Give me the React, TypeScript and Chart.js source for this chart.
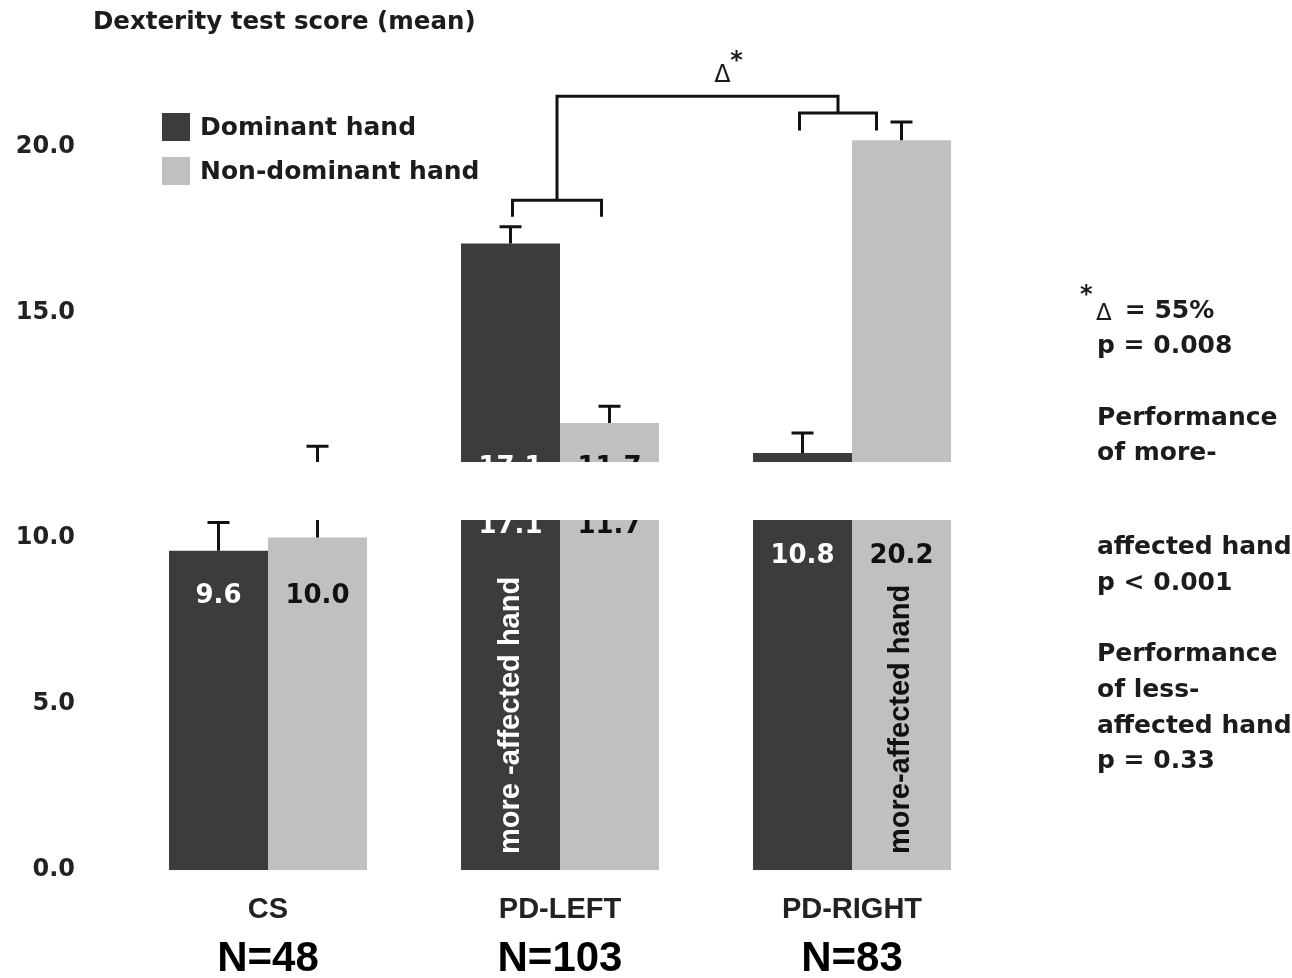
import React, { useEffect, useRef } from 'react';
import { Chart, registerables } from 'chart.js';

Chart.register(...registerables);

// ---------- data ----------
const categories = ['CS', 'PD-LEFT', 'PD-RIGHT'];
const groupSizes = ['N=48', 'N=103', 'N=83'];
const seriesNames = ['Dominant hand', 'Non-dominant hand'];
const dominantMeans = [9.6, 17.1, 10.8];
const nonDominantMeans = [10.0, 11.7, 20.2];
const dominantErrTop = [10.45, 17.6, 11.4];
const nonDominantErrTop = [11.0, 12.2, 20.75];
const yTicks = [0, 5, 10, 15, 20];
const axisTitle = 'Dexterity test score (mean)';
const affectedLabels = [
  { dataset: 0, index: 1, text: 'more -affected hand' },
  { dataset: 1, index: 2, text: 'more-affected hand' },
];
const sideNotes = [
  'Δ = 55%',
  'p = 0.008',
  '',
  'Performance',
  'of more-',
  'affected hand',
  'p < 0.001',
  '',
  'Performance',
  'of less-',
  'affected hand',
  'p = 0.33',
];

// ---------- styles ----------
const DARK = '#3c3c3c';
const LIGHT = '#c0c0c0';
const INK = '#1c1c1c';
const WIDE = '"DejaVu Sans", sans-serif';
const NARROW = '"Liberation Sans", Arial, sans-serif';
const GAP_AT = 462;
const GAP_H = 58;

const decorPlugin = {
  id: 'decor',
  beforeDraw(chart: any) {
    const ctx = chart.ctx;
    ctx.save();
    ctx.fillStyle = '#ffffff';
    ctx.fillRect(0, 0, chart.width, chart.height);
    ctx.restore();
  },
  afterDraw(chart: any) {
    const ctx = chart.ctx;
    const y = chart.scales.y;
    const x = chart.scales.x;
    const bottom = y.getPixelForValue(0);
    const m0 = chart.getDatasetMeta(0).data;
    const m1 = chart.getDatasetMeta(1).data;
    const errs = [dominantErrTop, nonDominantErrTop];
    const means = [dominantMeans, nonDominantMeans];
    const metas = [m0, m1];

    ctx.save();
    // error bars
    ctx.strokeStyle = '#111';
    ctx.lineWidth = 3;
    ctx.lineCap = 'butt';
    for (let d = 0; d < 2; d++) {
      metas[d].forEach((bar: any, i: number) => {
        const top = y.getPixelForValue(means[d][i]);
        const cap = y.getPixelForValue(errs[d][i]);
        ctx.beginPath();
        ctx.moveTo(bar.x, top);
        ctx.lineTo(bar.x, cap);
        ctx.moveTo(bar.x - 11, cap);
        ctx.lineTo(bar.x + 11, cap);
        ctx.stroke();
      });
    }

    // value labels
    ctx.font = `bold 26px ${WIDE}`;
    ctx.textAlign = 'center';
    ctx.textBaseline = 'middle';
    categories.forEach((_, i) => {
      const lowTop = Math.max(
        y.getPixelForValue(dominantMeans[i]),
        y.getPixelForValue(nonDominantMeans[i])
      );
      const ly = lowTop + 45;
      ctx.fillStyle = '#ffffff';
      ctx.fillText(dominantMeans[i].toFixed(1), m0[i].x, ly);
      ctx.fillStyle = '#111';
      ctx.fillText(nonDominantMeans[i].toFixed(1), m1[i].x, ly);
    });

    // rotated labels
    affectedLabels.forEach((a) => {
      const bar = metas[a.dataset][a.index];
      ctx.save();
      ctx.translate(bar.x, bottom - 16);
      ctx.rotate(-Math.PI / 2);
      ctx.font = `bold 29px ${NARROW}`;
      ctx.textAlign = 'left';
      ctx.textBaseline = 'middle';
      ctx.fillStyle = a.dataset === 0 ? '#ffffff' : '#111';
      ctx.fillText(a.text, 0, 0);
      ctx.restore();
    });

    // brackets
    ctx.strokeStyle = '#111';
    ctx.lineWidth = 3;
    ctx.lineCap = 'square';
    const lA = m0[1].x + 2;
    const lB = m1[1].x - 8;
    const rA = m0[2].x - 3;
    const rB = m1[2].x - 25;
    const yL = y.getPixelForValue(18.4);
    const yLleg = y.getPixelForValue(17.95);
    const yTop = y.getPixelForValue(21.53);
    const yR = y.getPixelForValue(21.02);
    const yRleg = y.getPixelForValue(20.54);
    const lMid = (lA + lB) / 2;
    const rMid = (rA + rB) / 2;
    ctx.beginPath();
    ctx.moveTo(lA, yLleg);
    ctx.lineTo(lA, yL);
    ctx.lineTo(lB, yL);
    ctx.lineTo(lB, yLleg);
    ctx.moveTo(lMid, yL);
    ctx.lineTo(lMid, yTop);
    ctx.lineTo(rMid, yTop);
    ctx.lineTo(rMid, yR);
    ctx.moveTo(rA, yRleg);
    ctx.lineTo(rA, yR);
    ctx.lineTo(rB, yR);
    ctx.lineTo(rB, yRleg);
    ctx.stroke();

    // delta label
    const dx = (lMid + rMid) / 2 + 25;
    ctx.fillStyle = INK;
    ctx.font = `24px ${WIDE}`;
    ctx.textAlign = 'center';
    ctx.textBaseline = 'middle';
    ctx.fillText('Δ', dx, yTop - 20);
    ctx.font = `bold 24px ${WIDE}`;
    ctx.fillText('*', dx + 14, yTop - 34);

    // title
    ctx.textAlign = 'left';
    ctx.fillStyle = INK;
    ctx.font = `bold 24.5px ${WIDE}`;
    ctx.fillText(axisTitle, 93, 23);

    // legend
    const colors = [DARK, LIGHT];
    seriesNames.forEach((name, k) => {
      const cy = 127 + k * 44;
      ctx.fillStyle = colors[k];
      ctx.fillRect(162, cy - 14, 28, 28);
      ctx.fillStyle = INK;
      ctx.font = `bold 25px ${WIDE}`;
      ctx.fillText(name, 200, cy + 1);
    });

    // side notes
    const sx = 1097;
    sideNotes.forEach((line, k) => {
      if (!line) return;
      const cy = 311 + k * 35.7;
      ctx.fillStyle = INK;
      if (line.startsWith('Δ')) {
        ctx.font = `bold 24px ${WIDE}`;
        ctx.fillText('*', sx - 17, cy - 15);
        ctx.font = `23px ${WIDE}`;
        ctx.fillText('Δ', sx - 1, cy + 3);
        const w = ctx.measureText('Δ').width;
        ctx.font = `bold 25px ${WIDE}`;
        ctx.fillText(line.slice(1).trimStart(), sx - 1 + w + 13, cy);
      } else {
        ctx.font = `bold 25px ${WIDE}`;
        ctx.fillText(line, sx, cy);
      }
    });

    // group sizes
    ctx.textAlign = 'center';
    ctx.fillStyle = '#000';
    ctx.font = `bold 42px ${NARROW}`;
    groupSizes.forEach((n, i) => {
      ctx.fillText(n, x.getPixelForValue(i), 901);
    });
    ctx.restore();

    // blank band across the picture
    const W = chart.canvas.width;
    const H = chart.canvas.height;
    const img = ctx.getImageData(0, GAP_AT, W, H - GAP_AT - GAP_H);
    ctx.putImageData(img, 0, GAP_AT + GAP_H);
    ctx.save();
    ctx.setTransform(1, 0, 0, 1, 0, 0);
    ctx.fillStyle = '#ffffff';
    ctx.fillRect(0, GAP_AT, W, GAP_H);
    ctx.restore();
  },
};

export default function App() {
  const ref = useRef<HTMLCanvasElement | null>(null);

  useEffect(() => {
    document.body.style.margin = '0';
    const canvas = ref.current;
    if (!canvas) return;
    const chart = new Chart(canvas, {
      type: 'bar',
      data: {
        labels: categories,
        datasets: [
          {
            label: seriesNames[0],
            data: dominantMeans,
            backgroundColor: DARK,
            categoryPercentage: 0.678,
            barPercentage: 1,
            clip: false,
          },
          {
            label: seriesNames[1],
            data: nonDominantMeans,
            backgroundColor: LIGHT,
            categoryPercentage: 0.678,
            barPercentage: 1,
            clip: false,
          },
        ],
      },
      options: {
        responsive: false,
        animation: false,
        devicePixelRatio: 1,
        layout: { padding: { top: 147, right: 294, left: 0, bottom: 0 } },
        plugins: {
          legend: { display: false },
          tooltip: { enabled: false },
          title: { display: false },
        },
        scales: {
          x: {
            grid: { display: false, drawTicks: false },
            border: { display: false },
            ticks: {
              color: '#222',
              font: { family: NARROW, weight: 'bold', size: 29 },
              padding: 23,
            },
            afterFit: (s: any) => {
              s.height = 166;
            },
          },
          y: {
            min: 0,
            max: 20,
            grid: { display: false, drawTicks: false },
            border: { display: false },
            afterBuildTicks: (s: any) => {
              s.ticks = yTicks.map((v) => ({ value: v }));
            },
            ticks: {
              color: '#222',
              font: { family: WIDE, weight: 'bold', size: 24 },
              padding: 47,
              callback: (v: any) => Number(v).toFixed(1),
            },
            afterFit: (s: any) => {
              s.width = 122;
            },
          },
        },
      } as any,
      plugins: [decorPlugin],
    });
    return () => chart.destroy();
  }, []);

  return (
    <div style={{ position: 'fixed', left: 0, top: 0, width: 1292, height: 978, background: '#fff' }}>
      <canvas ref={ref} width={1292} height={978} style={{ display: 'block' }} />
    </div>
  );
}
